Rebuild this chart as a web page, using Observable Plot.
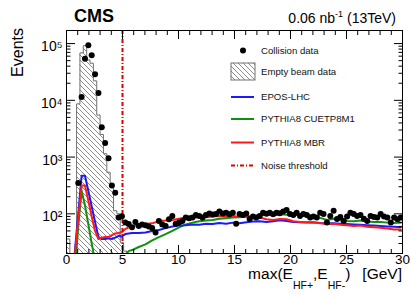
<!DOCTYPE html>
<html><head><meta charset="utf-8">
<script src="https://cdn.jsdelivr.net/npm/d3@7"></script>
<script src="https://cdn.jsdelivr.net/npm/@observablehq/plot@0.6"></script>
<style>
body{margin:0;background:#fff;}
#wrap{position:relative;width:411px;height:295px;font-family:"Liberation Sans",Arial,Helvetica,sans-serif;}
#wrap svg{position:absolute;left:0;top:0;}
</style></head><body>
<svg width="0" height="0" style="position:absolute">
  <defs>
    <pattern id="hatch" patternUnits="userSpaceOnUse" width="5" height="5">
      <path d="M-1,-1 L6,6 M-1,4 L1,6 M4,-1 L6,1" stroke="#808080" stroke-width="0.9"/>
    </pattern>
  </defs>
</svg>
<div id="wrap"></div>
<script>
// ---- data ----
const binWidth = 0.3;                 // GeV
const emptyBeamFirstBin = 0;
const emptyBeam = [36, 0, 0, 8650, 68500, 92200, 51500, 45000, 22000, 5500,
                   2500, 1150, 540, 335, 113, 100, 31, 22];
const collisionFirstBin = 3;
const collision = [
  350, 11500, 54000, 93000, 62000, 28800, 13500, 3340, 1770, 950,
  316, 235, 86, 91, 70, 66, 58, 72, 61, 65,
  63, 60, 56, 47, 75, 65, 61, 80, 92, 67,
  70, 75, 86, 84, 86, 95, 92, 86, 95, 101,
  97, 99, 110, 101, 105, 98, 105, 67, 99, 95,
  101, 81, 90, 86, 92, 105, 100, 105, 98, 105,
  102, 110, 117, 99, 95, 105, 92, 99, 95, 86,
  90, 86, 105, 99, 70, 92, 113, 81, 88, 75,
  90, 105, 99, 92, 95, 82, 75, 92, 88, 86,
  99, 90, 86, 70, 86, 80, 86];
const mcE = [0.45,0.75,1.05,1.35,1.65,1.95,2.25,2.55,2.85,3.15,3.45,3.75,4.05,4.35,4.65,4.95,5.25,5.55,5.85,
  6.45,7.05,7.65,8.25,8.85,9.45,10.05,10.65,11.25,11.85,
  12.45,13.05,13.65,14.25,14.85,15.45,16.05,16.65,17.25,17.85,
  18.45,19.05,19.65,20.25,20.85,21.45,22.05,22.65,23.25,23.85,
  24.45,25.05,25.65,26.25,26.85,27.45,28.05,28.65,29.25,29.85];
const eposLHC = [3,22,100,470,470,252,135,72,39,36,36,37,36,38,41,40,44,45,46,
  46,47,50,52,56,60,62,63,65,64,
  67,66,69,67,70,68,71,73,74,72,
  74,77,75,72,71,70,71,69,68,68,
  67,66,65,64,63,62,61,60,59,58];
const pythiaCUETP8M1 = [1,10,60,255,140,65,30,15,8,5,5,5,6,8,11,15,19,22,23,
  26,29,34,39,44,50,58,65,70,74,
  76,78,82,84,86,87,89,91,93,96,
  97,98,96,97,96,95,92,85,78,82,
  77,75,74,76,73,72,72,70,69,70];
const pythiaMBR = [2,20,80,315,315,170,90,50,36,38,39,39,42,45,46,48,54,58,60,
  64,66,68,74,76,78,82,86,84,88,
  87,90,92,89,92,88,91,90,86,80,
  78,81,80,74,72,71,70,68,66,67,
  64,63,61,62,59,58,57,55,53,53];
const noiseThreshold = 5;
const xTicks = [0, 5, 10, 15, 20, 25, 30];
const yTicks = [1e2, 1e3, 1e4, 1e5];
const yTickLabels = ["10²", "10³", "10⁴", "10⁵"];
const legendLabels = ["Collision data", "Empty beam data", "EPOS-LHC", "PYTHIA8 CUETP8M1", "PYTHIA8 MBR", "Noise threshold"];
const colors = {epos: "#1a1aff", cuetp: "#109010", mbr: "#ff1a1a", noise: "#e00000"};

// ---- build tables ----
const floorVal = 1;
const emptyPts = [{e: 0, n: floorVal}];
emptyBeam.forEach((v, i) => {
  const lo = (emptyBeamFirstBin + i) * binWidth;
  const n = v > 0 ? v : floorVal;
  emptyPts.push({e: lo, n}, {e: lo + binWidth, n});
});
emptyPts.push({e: emptyPts[emptyPts.length - 1].e, n: floorVal});
emptyPts.forEach(d => d.base = floorVal);
const collisionPts = collision.map((n, i) => ({e: (collisionFirstBin + i + 0.5) * binWidth, n}));
const mc = (arr) => arr.map((n, i) => ({e: mcE[i], n}));

const xMinor = d3.range(xTicks[0], xTicks[xTicks.length - 1] + 1, 1).filter(v => !xTicks.includes(v));
const yMinor = [];
[10, 100, 1000, 10000, 100000].forEach(d => { for (let k = 2; k <= 9; k++) { const v = k * d; if (v >= 20 && v <= 170000) yMinor.push(v); } });

const font = "Liberation Sans, Arial, Helvetica, sans-serif";
const noLab = () => "";

const plot = Plot.plot({
  width: 411, height: 295,
  marginLeft: 66, marginRight: 9, marginTop: 30, marginBottom: 42,
  x: {domain: [0, 30], label: null},
  y: {type: "log", domain: [20, 170000], label: null},
  style: {background: "transparent", overflow: "visible", fontFamily: font, color: "#000"},
  marks: [
    Plot.areaY(emptyPts, {x: "e", y1: "base", y2: "n", fill: "url(#hatch)", clip: true}),
    Plot.line(emptyPts, {x: "e", y: "n", stroke: "#707070", strokeWidth: 1, clip: true}),
    Plot.line(mc(pythiaCUETP8M1), {x: "e", y: "n", stroke: colors.cuetp, strokeWidth: 2, clip: true}),
    Plot.line(mc(eposLHC), {x: "e", y: "n", stroke: colors.epos, strokeWidth: 2, clip: true}),
    Plot.line(mc(pythiaMBR), {x: "e", y: "n", stroke: colors.mbr, strokeWidth: 2, clip: true}),
    Plot.ruleX([noiseThreshold], {stroke: colors.noise, strokeWidth: 2, strokeDasharray: "4,2,1,2"}),
    Plot.dot(collisionPts, {x: "e", y: "n", r: 3, fill: "#000", clip: true}),
    Plot.frame({stroke: "#000", strokeWidth: 1}),
    // ticks (inside, ROOT style)
    Plot.axisX({anchor: "bottom", ticks: xTicks, tickSize: -8, tickFormat: noLab, label: null}),
    Plot.axisX({anchor: "bottom", ticks: xMinor, tickSize: -4, tickFormat: noLab, label: null}),
    Plot.axisX({anchor: "top", ticks: xTicks, tickSize: -8, tickFormat: noLab, label: null}),
    Plot.axisX({anchor: "top", ticks: xMinor, tickSize: -4, tickFormat: noLab, label: null}),
    Plot.axisY({anchor: "left", ticks: yTicks, tickSize: -9, tickFormat: noLab, label: null}),
    Plot.axisY({anchor: "left", ticks: yMinor, tickSize: -4.5, tickFormat: noLab, label: null}),
    Plot.axisY({anchor: "right", ticks: yTicks, tickSize: -9, tickFormat: noLab, label: null}),
    Plot.axisY({anchor: "right", ticks: yMinor, tickSize: -4.5, tickFormat: noLab, label: null}),
    // labels
    Plot.axisX({anchor: "bottom", ticks: xTicks, tickSize: 0, tickPadding: 1, fontSize: 13.5, label: null}),
    Plot.axisY({anchor: "left", ticks: yTicks, tickSize: 0, tickPadding: 4, dy: 3, fontSize: 14,
      tickFormat: d => yTickLabels[yTicks.indexOf(d)], label: null})
  ]
});
document.getElementById("wrap").appendChild(plot);

// ---- titles, axis titles, legend (overlay) ----
const ov = d3.select("#wrap").append("svg").attr("width", 411).attr("height", 295)
  .style("font-family", font).style("overflow", "visible");

ov.append("text").attr("x", 74).attr("y", 22).attr("font-size", 18).attr("font-weight", "bold").text("CMS");
const lum = ov.append("text").attr("x", 396).attr("y", 23).attr("font-size", 14).attr("text-anchor", "end");
lum.append("tspan").text("0.06 nb");
lum.append("tspan").attr("font-size", 9).attr("dy", -6).text("-1");
lum.append("tspan").attr("dy", 6).text(" (13TeV)");

ov.append("text").attr("transform", "translate(23,28) rotate(-90)").attr("text-anchor", "end")
  .attr("font-size", 16).text("Events");

const xl = ov.append("text").attr("x", 402).attr("y", 279).attr("font-size", 15.5).attr("text-anchor", "end");
xl.append("tspan").text("max(E");
xl.append("tspan").attr("font-size", 10.5).attr("dy", 10).text("HF+");
xl.append("tspan").attr("dy", -10).text(",E");
xl.append("tspan").attr("font-size", 10.5).attr("dy", 10).text("HF-");
xl.append("tspan").attr("dy", -10).text(")");
xl.append("tspan").attr("dx", 12).text("[GeV]");

const lg = ov.append("g").attr("font-size", 9.6).attr("fill", "#111");
const rows = [50.5, 72, 97, 119, 142.5, 165.5];
lg.append("circle").attr("cx", 243).attr("cy", rows[0]).attr("r", 3).attr("fill", "#000");
lg.append("rect").attr("x", 231).attr("y", 63).attr("width", 24).attr("height", 17)
  .attr("fill", "url(#hatch)").attr("stroke", "#707070");
[[colors.epos, null], [colors.cuetp, null], [colors.mbr, null], [colors.noise, "4,2,1,2"]].forEach(([c, da], i) => {
  const l = lg.append("line").attr("x1", 231).attr("x2", 254).attr("y1", rows[i + 2]).attr("y2", rows[i + 2])
    .attr("stroke", c).attr("stroke-width", 2);
  if (da) l.attr("stroke-dasharray", da);
});
legendLabels.forEach((t, i) => {
  lg.append("text").attr("x", 261).attr("y", rows[i]).attr("dy", "0.35em").text(t);
});
</script>
</body></html>
